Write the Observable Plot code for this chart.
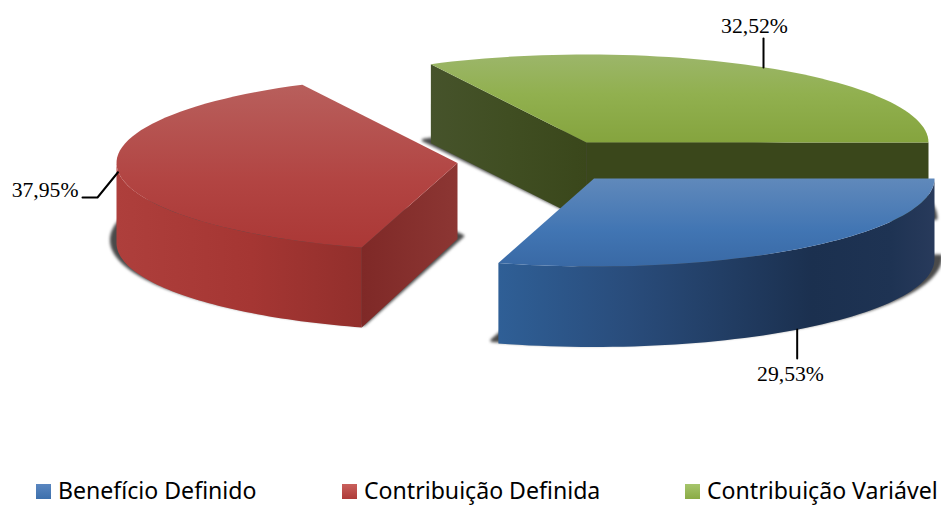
<!DOCTYPE html>
<html><head><meta charset="utf-8">
<script src="https://cdn.jsdelivr.net/npm/d3@7"></script>
<script src="https://cdn.jsdelivr.net/npm/@observablehq/plot@0.6"></script>
<style>
html,body{margin:0;padding:0;background:#fff;overflow:hidden}
svg{display:block}
#legend{position:relative;height:35px;font:23.1px "Noto Sans",sans-serif;color:#000}
#legend .sw{position:absolute;top:14px;width:15px;height:15px}
#legend .tx{position:absolute;top:5px;line-height:30px;height:30px;white-space:nowrap}
</style></head><body>
<div id="chart"></div><div id="legend"></div>
<script>
const categories = ["Benefício Definido", "Contribuição Definida", "Contribuição Variável"];
const shares = [29.53, 37.95, 32.52];
const shareLabels = ["29,53%", "37,95%", "32,52%"];

// layout of the exploded tilted pie
const W = 941, H = 470, RY = 88;
const centers = [[593.5, 178, 340.5], [457, 162.5, 341], [586, 142, 342]];
const depths = [80.5, 80, 79];
const apexDepths = [80.5, 76, 79];
const rad = d => d * Math.PI / 180;
const total = d3.sum(shares);
let acc = 0;
const wedges = shares.map((v, i) => {
  const a0 = acc; acc += v / total * 360;
  const [cx, cy, rx] = centers[i];
  return {i, a0, a1: acc, cx, cy, rx, d: depths[i], ad: apexDepths[i], mid: (a0 + acc) / 2};
});
const pt = (w, a, dz = 0) => ({x: w.cx + w.rx * Math.cos(rad(a)), y: w.cy + RY * Math.sin(rad(a)) + dz});
const arc = (w, a0, a1, dz = 0) => d3.range(0, 61).map(k => pt(w, a0 + (a1 - a0) * k / 60, dz));
const apex = (w, dz = 0) => ({x: w.cx, y: w.cy + dz});
const ring = p => [...p, p[0]];
const topFace = w => ring([apex(w), ...arc(w, w.a0, w.a1)]);
const bottomFace = w => ring([apex(w, w.ad), ...arc(w, w.a0, w.a1, w.d)]);
const curved = (w, a0, a1) => ring([...arc(w, a0, a1), ...arc(w, a1, a0, w.d)]);
const radial = (w, a) => ring([apex(w), pt(w, a), pt(w, a, w.d), apex(w, w.ad)]);

const [blue, red, green] = wedges;
const poly = (data, fill, extra = {}) => Plot.line(data, {x: "x", y: "y", fill, stroke: "none", curve: "linear", ...extra});
const shadow = w => {
  const face = bottomFace(w);
  const [x0, x1] = d3.extent(face, d => d.x), xm = (x0 + x1) / 2;
  return Plot.line(face.map(d => ({x: xm + (d.x - xm) * 1.03, y: d.y - 3})), {
    x: "x", y: "y", fill: "#4a4a4a", stroke: "#4a4a4a", strokeWidth: 3, strokeLinejoin: "round", curve: "linear",
    render(i, s, v, d, c, next) { const g = next(i, s, v, d, c); g.style.filter = "blur(1.6px)"; return g; }
  });
};

function grad(id, dir, stops) {
  const g = d3.create("svg:linearGradient").attr("id", id);
  if (dir === "h") g.attr("x1", 0).attr("x2", 1).attr("y1", 0).attr("y2", 0);
  else g.attr("x1", 0).attr("x2", 0).attr("y1", 0).attr("y2", 1);
  stops.forEach(([o, c]) => g.append("stop").attr("offset", o).attr("stop-color", c));
  return g.node();
}
const defs = () => {
  const d = d3.create("svg:defs").node();
  [
    grad("gTop", "v", [[0, "#9cb66a"], [.45, "#91b04f"], [1, "#85a43e"]]),
    grad("gLeft", "h", [[0, "#46532b"], [.5, "#404e22"], [1, "#3a471b"]]),
    grad("bTop", "v", [[0, "#6089bb"], [.6, "#4175b3"], [1, "#3969a5"]]),
    grad("bWall", "h", [[0, "#2f5f96"], [.3, "#294c7b"], [.72, "#1b304f"], [.9, "#1e3353"], [1, "#283a5b"]]),
    grad("rTop", "v", [[0, "#b85f5c"], [.6, "#b24442"], [1, "#ab3836"]]),
    grad("rWall", "h", [[0, "#ae3f3c"], [.55, "#a53633"], [1, "#922f2c"]]),
    grad("rSide", "h", [[0, "#7f2927"], [1, "#8c3633"]])
  ].forEach(n => d.appendChild(n));
  return d;
};

// leader lines start on each slice's mid-angle
const lead = [
  [pt(blue, blue.mid, blue.d), {x: pt(blue, blue.mid).x, y: 358}].map(p => ({...p, x: p.x - 1})),
  [pt(red, red.mid, 1), {x: 97, y: 197}, {x: 82, y: 197}],
  [pt(green, green.mid), {x: pt(green, green.mid).x, y: 38}].map(p => ({...p, x: p.x - 1.5}))
];
const labelPos = [
  {x: 790, y: 374, textAnchor: "middle"},
  {x: 78, y: 190, textAnchor: "end"},
  {x: 754, y: 26, textAnchor: "middle"}
].map((p, i) => ({...p, text: shareLabels[i]}));

const plot = Plot.plot({
  width: W, height: H, margin: 0,
  x: {type: "linear", domain: [0, W], range: [0, W], axis: null},
  y: {type: "linear", domain: [0, H], range: [0, H], axis: null},
  style: {background: "transparent"},
  marks: [
    defs,
    shadow(green),
    poly(radial(green, green.a0), "url(#gLeft)"),
    poly(radial(green, 360), "#3a471b"),
    poly(topFace(green), "url(#gTop)"),
    shadow(red),
    poly(curved(red, red.a0, 180), "url(#rWall)"),
    poly(radial(red, red.a0), "url(#rSide)"),
    poly(topFace(red), "url(#rTop)"),
    shadow(blue),
    poly(curved(blue, blue.a0, blue.a1), "url(#bWall)"),
    poly(topFace(blue), "url(#bTop)"),
    ...lead.map(l => Plot.line(l, {x: "x", y: "y", stroke: "#000", strokeWidth: 2, curve: "linear"})),
    ...labelPos.map(l => Plot.text([l], {x: "x", y: "y", text: "text", textAnchor: l.textAnchor, fill: "#000",
      fontFamily: "Liberation Serif", fontSize: 21.7, lineAnchor: "middle"}))
  ]
});
document.getElementById("chart").appendChild(plot);

const legendX = [36, 342, 685];
const swatch = ["linear-gradient(#5a86c0,#3d70ac)", "linear-gradient(#c9605c,#ae3a38)", "linear-gradient(#a6c56c,#8aab45)"];
const lg = document.getElementById("legend");
categories.forEach((c, i) => {
  const s = document.createElement("div"); s.className = "sw"; s.style.left = legendX[i] + "px"; s.style.background = swatch[i];
  const t = document.createElement("div"); t.className = "tx"; t.style.left = (legendX[i] + 22) + "px"; t.textContent = c;
  lg.append(s, t);
});
</script></body></html>
